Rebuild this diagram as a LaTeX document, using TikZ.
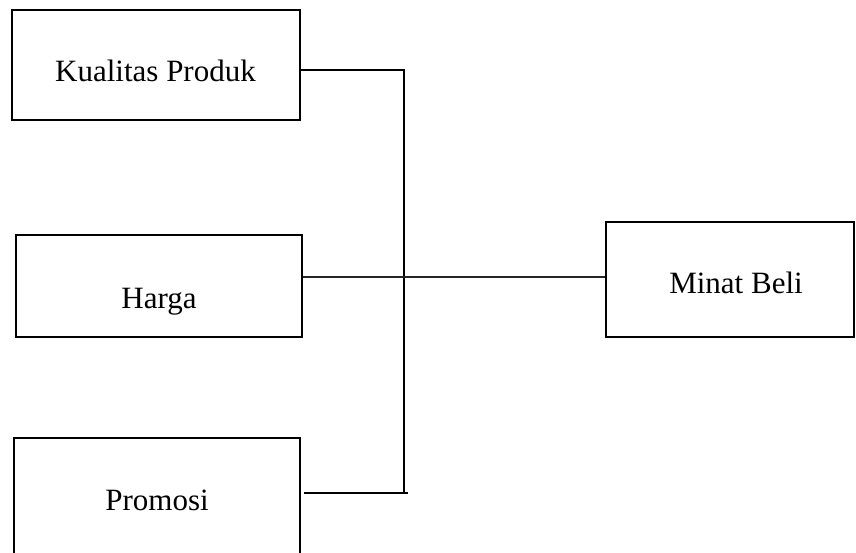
\documentclass[tikz,border=0pt]{standalone}
\usepackage{fontspec}
\setmainfont{Liberation Serif}
\begin{document}
\begin{tikzpicture}[x=1pt,y=-1pt,
  box/.style={draw=black,line width=2pt,rectangle,inner sep=0pt},
  lbl/.style={anchor=base,inner sep=0pt,font=\fontsize{31}{37}\selectfont},
  conn/.style={draw=black,line width=1.5pt},
  thinconn/.style={draw=black!85,line width=1.3pt}]
\useasboundingbox (0,0) rectangle (856,553);
\clip (0,0) rectangle (856,553);
% boxes
\node[box,minimum width=288pt,minimum height=110pt] (kp) at (156,65) {};
\node[box,minimum width=286pt,minimum height=102pt] (hg) at (159,286) {};
\node[box,minimum width=286pt,minimum height=120pt] (pr) at (157,498) {};
\node[box,minimum width=248pt,minimum height=115pt] (mb) at (730,279.5) {};
% labels
\node[lbl] (kpt) at (155.5,82) {Kualitas Produk};
\node[lbl] (hgt) at (159,308) {Harga};
\node[lbl] (prt) at (157,510) {Promosi};
\node[lbl] (mbt) at (736,293) {Minat Beli};
% junction points
\coordinate (jt) at (404,70);
\coordinate (jm) at (404,277);
\coordinate (jb) at (404,493);
\coordinate (je) at (408,493);
% connectors
\draw[conn] (kp.east |- jt) -- (jt) -- (jb);
\draw[conn] ([xshift=3pt]pr.east |- jb) -- (je);
\draw[thinconn] (hg.east |- jm) -- (mb.west |- jm);
\end{tikzpicture}
\end{document}
